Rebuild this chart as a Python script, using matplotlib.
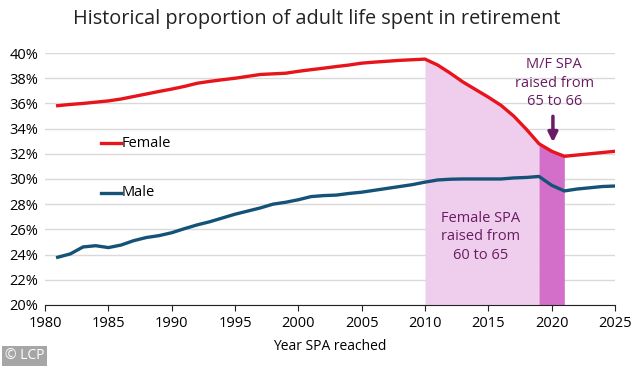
import matplotlib
matplotlib.use('Agg')
import matplotlib.pyplot as plt
import numpy as np

plt.rcParams['font.family'] = ['Open Sans', 'DejaVu Sans']

years = np.arange(1981, 2026)
female = [35.82, 35.92, 36.0, 36.1, 36.2, 36.35, 36.55, 36.75, 36.95, 37.14,
          37.35, 37.6, 37.75, 37.88, 38.0, 38.15, 38.3, 38.35, 38.4, 38.55,
          38.68, 38.8, 38.93, 39.05, 39.2, 39.28, 39.35, 39.42, 39.47, 39.52,
          39.05, 38.4, 37.7, 37.1, 36.5, 35.85, 35.0, 33.95, 32.8, 32.2,
          31.8, 31.9, 32.0, 32.1, 32.2]
male = [23.78, 24.05, 24.6, 24.7, 24.55, 24.75, 25.1, 25.35, 25.5, 25.73,
        26.05, 26.35, 26.6, 26.9, 27.2, 27.45, 27.7, 28.0, 28.15, 28.35,
        28.6, 28.68, 28.72, 28.85, 28.95, 29.1, 29.25, 29.4, 29.55, 29.75,
        29.92, 29.98, 30.0, 30.0, 30.0, 30.0, 30.08, 30.12, 30.2, 29.5,
        29.05, 29.2, 29.3, 29.4, 29.44]
xticks = [1980, 1985, 1990, 1995, 2000, 2005, 2010, 2015, 2020, 2025]
yticks = [20, 22, 24, 26, 28, 30, 32, 34, 36, 38, 40]

red = '#e8141b'
blue = '#145377'
purple = '#6a1c63'

fig = plt.figure(figsize=(6.34, 3.66), dpi=100)
ax = fig.add_axes([0.071, 0.167, 0.899, 0.688])

yrs = np.array(years)
fem = np.array(female)
m1 = (yrs >= 2010) & (yrs <= 2019)
m2 = (yrs >= 2019) & (yrs <= 2021)
ax.fill_between(yrs[m1], 20, fem[m1], color='#efcdec', lw=0, zorder=1)
ax.fill_between(yrs[m2], 20, fem[m2], color='#d36fc8', lw=0, zorder=1)

ax.plot(years, female, color=red, lw=2.4, zorder=3)
ax.plot(years, male, color=blue, lw=2.4, zorder=3)

ax.set_xlim(1980, 2025)
ax.set_ylim(20, 40)
ax.set_xticks(xticks)
ax.set_yticks(yticks)
ax.set_yticklabels([f'{v}%' for v in yticks])
ax.grid(axis='y', color='#d9d9d9', lw=1)
ax.set_axisbelow(True)
for s in ['top', 'right', 'left']:
    ax.spines[s].set_visible(False)
ax.spines['bottom'].set_color('#222222')
ax.tick_params(axis='y', length=0, labelsize=10.5, pad=5)
ax.tick_params(axis='x', length=4, labelsize=10.5, color='#222222', pad=4)
ax.set_xlabel('Year SPA reached', fontsize=10, labelpad=6)

# in-plot legend
ax.plot([1984.4, 1986.0], [32.85, 32.85], color=red, lw=2.4)
ax.text(1986.05, 32.85, 'Female', fontsize=10.5, va='center')
ax.plot([1984.4, 1986.0], [28.9, 28.9], color=blue, lw=2.4)
ax.text(1986.05, 28.9, 'Male', fontsize=10.5, va='center')

ax.text(2020.2, 37.6, 'M/F SPA\nraised from\n65 to 66', ha='center', va='center',
        fontsize=10.5, color=purple, linespacing=1.3)
ax.annotate('', xy=(2020.1, 32.7), xytext=(2020.1, 35.2),
            arrowprops=dict(arrowstyle='-|>', color=purple, lw=2.5, mutation_scale=14))
ax.text(2014.4, 25.4, 'Female SPA\nraised from\n60 to 65', ha='center', va='center',
        fontsize=10.5, color=purple, linespacing=1.3)

fig.suptitle('Historical proportion of adult life spent in retirement',
             y=0.975, fontsize=14.3, color='#222222')

fig.text(0.008, 0.018, '© LCP', fontsize=10, color='white',
         bbox=dict(facecolor='#a6a6a6', edgecolor='none', pad=2))

fig.savefig('out.png', dpi=100)
